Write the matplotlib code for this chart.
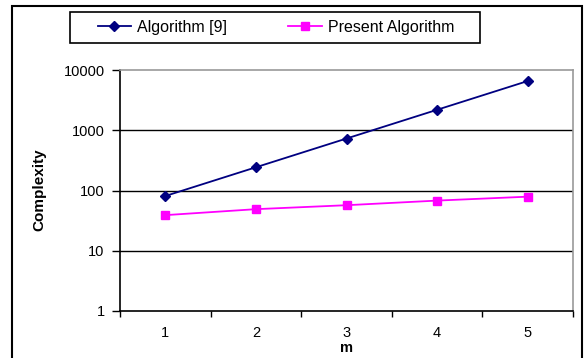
import matplotlib
matplotlib.use("Agg")
import matplotlib.pyplot as plt
from matplotlib.patches import Rectangle

m_values = [1, 2, 3, 4, 5]
algorithm9 = [81, 243, 729, 2187, 6561]
present = [39, 49, 57, 68, 79]
y_ticks = [1, 10, 100, 1000, 10000]
y_tick_labels = ["1", "10", "100", "1000", "10000"]
series_names = ["Algorithm [9]", "Present Algorithm"]

plt.rcParams['font.family'] = ['Liberation Sans', 'DejaVu Sans']

W, H = 584, 358
fig = plt.figure(figsize=(W / 100, H / 100), dpi=100)
fig.patch.set_facecolor('white')

def fx(px):
    return px / W

def fy(py):
    return 1 - py / H

AX_L, AX_R, AX_T, AX_B = 120, 573, 70, 311
ax = fig.add_axes([fx(AX_L), fy(AX_B), fx(AX_R) - fx(AX_L), fy(AX_T) - fy(AX_B)])

ax.plot(m_values, algorithm9, color='#000080', lw=1.3, marker='D', ms=5.5,
        mfc='#000080', mec='#000080', label=series_names[0], zorder=4)
ax.plot(m_values, present, color='#FF00FF', lw=1.3, marker='s', ms=6,
        mfc='#FF00FF', mec='#FF00FF', label=series_names[1], zorder=4)

ax.set_yscale('log')
ax.set_ylim(1, 10000)
ax.set_xlim(0.5, 5.5)
ax.set_yticks(y_ticks)
ax.set_yticklabels(y_tick_labels)
ax.yaxis.set_minor_locator(matplotlib.ticker.NullLocator())

ax.set_xticks(m_values)
ax.set_xticklabels([str(v) for v in m_values])
ax.set_xticks([v - 0.5 for v in m_values] + [m_values[-1] + 0.5], minor=True)
ax.tick_params(axis='x', which='major', length=0, pad=11, labelsize=10.5)
ax.tick_params(axis='x', which='minor', length=4, width=1, direction='out', color='black')
ax.tick_params(axis='y', which='major', length=6, width=1, direction='out', pad=5, labelsize=10.5)

for v in [10, 100, 1000]:
    ax.axhline(v, color='black', lw=1, zorder=1)

for side in ['top', 'right']:
    ax.spines[side].set_color('#999999')
    ax.spines[side].set_linewidth(1.2)
for side in ['left', 'bottom']:
    ax.spines[side].set_color('black')
    ax.spines[side].set_linewidth(1.2)

ax.set_xlabel('m', fontsize=10.5, fontweight='bold')
ax.xaxis.set_label_coords(0.5, (AX_B - 341) / (AX_B - AX_T))
ax.set_ylabel('Complexity', fontsize=11, fontweight='bold')
ax.yaxis.set_label_coords((46 - AX_L) / (AX_R - AX_L), (AX_B - 190) / (AX_B - AX_T))

# outer chart border
fig.patches.append(Rectangle((fx(12), -0.05), fx(582) - fx(12), fy(6) + 0.05,
                             transform=fig.transFigure, fill=False,
                             edgecolor='black', lw=1.5, zorder=0))
# legend frame
fig.patches.append(Rectangle((fx(70), fy(43)), fx(480) - fx(70), fy(12) - fy(43),
                             transform=fig.transFigure, fill=False,
                             edgecolor='black', lw=1.2, zorder=5))

handles, labels = ax.get_legend_handles_labels()
fig.legend(handles, labels, loc='center', bbox_to_anchor=(fx(276), fy(27.5)),
           ncol=2, frameon=False, fontsize=11.5, handlelength=2.1,
           handletextpad=0.4, columnspacing=3.8, borderpad=0)

fig.savefig('out.png', dpi=100)
